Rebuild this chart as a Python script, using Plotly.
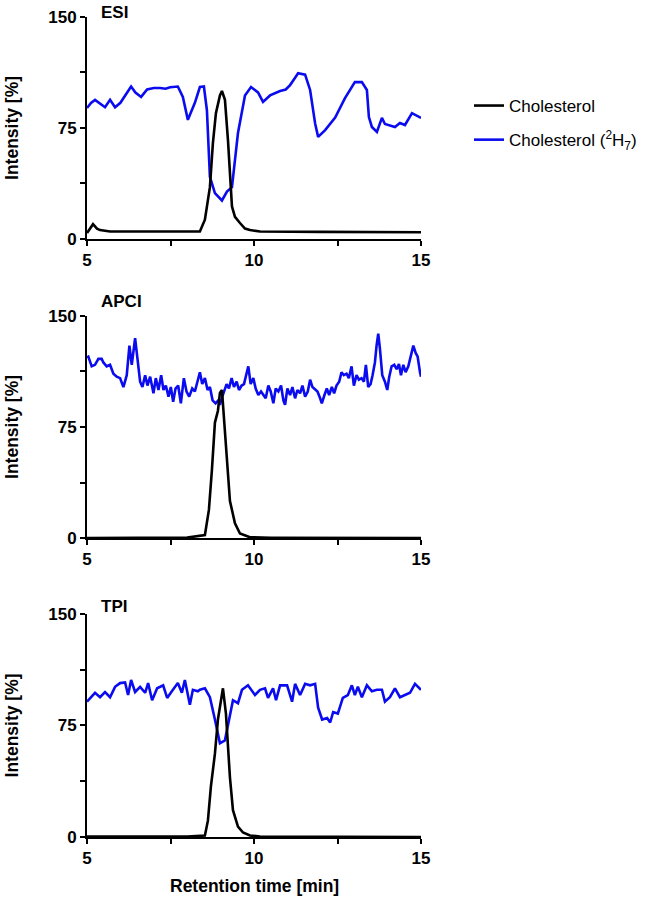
import plotly.graph_objects as go

# ---------------- data ----------------
esi_is_t = [5.00, 5.12, 5.24, 5.40, 5.54, 5.69, 5.84, 6.00, 6.14, 6.32, 6.45, 6.62, 6.80, 7.00, 7.19,
            7.35, 7.49, 7.72, 7.87, 8.02, 8.23, 8.38, 8.50, 8.59, 8.68, 8.83, 9.04, 9.19, 9.34,
            9.52, 9.73, 9.91, 10.12, 10.27, 10.48, 10.78, 10.95, 11.08, 11.20, 11.32, 11.53, 11.68,
            11.83, 11.92, 12.13, 12.43, 12.72, 13.02, 13.23, 13.38, 13.44, 13.53, 13.68, 13.83,
            13.92, 14.22, 14.37, 14.52, 14.73, 14.82, 15.00]
esi_is_v = [88.5, 92, 94, 91, 89, 94, 89, 92, 97, 103, 99, 96, 101, 102, 102,
            101.5, 102.5, 103, 96, 80.5, 92, 102.7, 103, 87, 42, 31, 26, 32, 35,
            71.6, 97, 102.7, 99, 92.6, 97, 100, 101, 104, 108, 112, 111, 100.7,
            78, 69, 73.6, 82, 95, 106, 106, 100.7, 82.4, 75.7, 72.3, 81.8,
            77.7, 75.7, 78.4, 77, 85, 83.8, 81.8]

esi_ch_t = [5.00, 5.10, 5.18, 5.30, 5.39, 5.69, 7.00, 8.38, 8.53, 8.68, 8.77, 8.86, 8.98, 9.04,
            9.13, 9.22, 9.34, 9.43, 9.58, 9.73, 9.88, 10.18, 12.00, 15.00]
esi_ch_v = [4, 7, 10, 7, 6, 5, 5, 5, 13, 35, 65, 85, 97, 100,
            94, 67, 22, 15, 10.8, 7, 6, 5, 4.8, 4.5]

apci_is_t = [5.00, 5.04, 5.14, 5.24, 5.34, 5.44, 5.49, 5.59, 5.69, 5.79, 5.89, 5.99, 6.09, 6.19,
             6.27, 6.34, 6.44, 6.52, 6.59, 6.66, 6.74, 6.81, 6.89, 6.99, 7.06, 7.14, 7.22, 7.29,
             7.36, 7.44, 7.51, 7.58, 7.65, 7.73, 7.81, 7.90, 7.98, 8.06, 8.15, 8.23, 8.31, 8.38,
             8.45, 8.53, 8.61, 8.68, 8.76, 8.85, 8.93, 8.98, 9.05, 9.11, 9.18, 9.25, 9.33, 9.40,
             9.48, 9.55, 9.63, 9.70, 9.76, 9.83, 9.90, 9.98, 10.05, 10.13, 10.21, 10.28, 10.35,
             10.43, 10.50, 10.58, 10.65, 10.73, 10.81, 10.88, 10.93, 11.00, 11.08, 11.15, 11.23,
             11.30, 11.38, 11.45, 11.53, 11.61, 11.68, 11.75, 11.83, 11.90, 11.98, 12.03, 12.11,
             12.18, 12.25, 12.33, 12.40, 12.47, 12.55, 12.62, 12.69, 12.77, 12.84, 12.92, 12.99,
             13.07, 13.14, 13.22, 13.29, 13.35, 13.42, 13.49, 13.55, 13.62, 13.67, 13.72, 13.77,
             13.84, 13.92, 13.99, 14.05, 14.12, 14.20, 14.27, 14.34, 14.40, 14.47, 14.54, 14.62,
             14.70, 14.77, 14.84, 14.90, 14.97, 15.00]
apci_is_v = [122, 122.5, 116, 117, 121, 121, 118.6, 116, 117, 111, 109, 108, 102, 110,
             130, 117, 135, 121, 105.6, 102, 110, 103, 109, 97.8, 108, 100, 110, 100,
             103, 95.5, 102, 92, 101, 103, 91, 108, 99, 95.5, 101, 99, 107, 112,
             104, 108, 100, 102, 93, 91, 93, 90, 95.5, 100, 104, 101, 108, 102,
             105.6, 100, 103, 104, 109, 116, 104, 108, 101, 96.6, 99, 96.6, 94.4,
             103, 99, 91, 101, 99, 103, 93, 90, 101, 96.6, 102, 94.4,
             100, 97.8, 103, 95.5, 99, 107, 102, 100, 99, 94.4, 91, 96.6,
             101, 96.6, 102, 97.8, 103, 105.6, 112, 110, 111, 108, 116, 103,
             110, 107, 108, 105.6, 117, 102, 104, 110, 118.6, 130, 138, 128,
             110, 105.6, 100, 109, 116, 117, 114, 117.5, 110, 117, 112, 116,
             124, 130, 125, 122.5, 112, 109]

apci_ch_t = [5.00, 8.00, 8.53, 8.65, 8.74, 8.83, 8.92, 8.98, 9.04, 9.13, 9.28, 9.43, 9.58, 9.88, 10.50, 15.00]
apci_ch_v = [0, 0.3, 2, 19, 46, 78, 86, 98, 100, 73, 25, 10, 3, 0.5, 0.2, 0]

tpi_is_t = [5.00, 5.09, 5.24, 5.39, 5.54, 5.69, 5.84, 5.99, 6.14, 6.23, 6.32, 6.44, 6.59, 6.74, 6.83,
            6.95, 7.10, 7.28, 7.40, 7.54, 7.72, 7.84, 7.93, 8.08, 8.17, 8.32, 8.38, 8.53, 8.68, 8.83,
            8.98, 9.13, 9.28, 9.37, 9.52, 9.64, 9.82, 10.03, 10.18, 10.33, 10.42, 10.57, 10.66,
            10.78, 10.99, 11.14, 11.23, 11.38, 11.53, 11.68, 11.83, 11.92, 12.04, 12.19, 12.28,
            12.37, 12.51, 12.66, 12.81, 12.93, 13.02, 13.11, 13.23, 13.38, 13.53, 13.68, 13.83,
            13.92, 14.07, 14.22, 14.37, 14.52, 14.67, 14.82, 14.91, 15.00]
tpi_is_v = [91, 93.5, 97, 94, 97.5, 94, 101, 103.5, 104, 95.5, 105.6, 97.5, 101, 97, 103.5,
            92, 100, 102, 93.5, 98, 103.5, 97, 105.6, 89, 99, 98, 99, 100, 94, 79,
            63, 65, 81, 92, 90, 99, 102, 95.5, 99, 100, 93.5, 100, 92,
            102, 102, 91, 103, 95.5, 103, 102, 103, 87, 79, 80, 77,
            84, 83, 93.5, 95.5, 102, 95.5, 101, 94, 102, 98, 99, 99,
            91, 94, 100, 94, 95.5, 97, 103, 101, 99]

tpi_ch_t = [5.00, 8.00, 8.53, 8.62, 8.71, 8.83, 8.92, 8.98, 9.07, 9.16, 9.28, 9.37, 9.52, 9.67, 9.88, 10.18, 15.00]
tpi_ch_v = [0.3, 0.3, 1, 11, 34, 56, 79, 87.5, 100, 83, 40, 18, 7, 3, 1, 0.3, 0]

panel_titles = ["ESI", "APCI", "TPI"]
x_ticks = [5, 7.5, 10, 12.5, 15]
x_ticklabels = ["5", "", "10", "", "15"]
y_ticks = [0, 37.5, 75, 112.5, 150]
y_ticklabels = ["0", "", "75", "", "150"]
name_ch = "Cholesterol"
name_is = "Cholesterol (<sup>2</sup>H<sub>7</sub>)"

# ---------------- figure ----------------
BLUE = "#0b0bf0"
BLACK = "#000000"
FONT = "Liberation Sans, Arial, sans-serif"

panels = [
    (esi_is_t, esi_is_v, esi_ch_t, esi_ch_v),
    (apci_is_t, apci_is_v, apci_ch_t, apci_ch_v),
    (tpi_is_t, tpi_is_v, tpi_ch_t, tpi_ch_v),
]
domains = [[0.7293, 1.0], [0.3646, 0.6354], [0.0, 0.2720]]
title_y = [1.0055, 0.6525, 0.2817]

fig = go.Figure()
for i, (it, iv, ct, cv) in enumerate(panels):
    ax = "" if i == 0 else str(i + 1)
    fig.add_trace(go.Scatter(x=it, y=iv, mode="lines", name=name_is,
                             line=dict(color=BLUE, width=2.6),
                             xaxis="x" + ax, yaxis="y" + ax,
                             showlegend=(i == 0), legendgroup="is", legendrank=2))
    fig.add_trace(go.Scatter(x=ct, y=cv, mode="lines", name=name_ch,
                             line=dict(color=BLACK, width=2.6),
                             xaxis="x" + ax, yaxis="y" + ax,
                             showlegend=(i == 0), legendgroup="ch", legendrank=1))

axis_common = dict(showline=True, linewidth=2, linecolor="black", ticks="outside",
                   ticklen=5, tickwidth=2, tickcolor="black", showgrid=False, zeroline=False,
                   tickfont=dict(family=FONT, size=17, color="black", weight="bold"))
layout = {}
for i in range(3):
    sx = "xaxis" if i == 0 else f"xaxis{i+1}"
    sy = "yaxis" if i == 0 else f"yaxis{i+1}"
    ax = "x" if i == 0 else f"x{i+1}"
    ay = "y" if i == 0 else f"y{i+1}"
    layout[sx] = dict(axis_common, range=[5, 15], tickvals=x_ticks, ticktext=x_ticklabels,
                      anchor=ay, domain=[0, 1])
    layout[sy] = dict(axis_common, range=[0, 150], tickvals=y_ticks, ticktext=y_ticklabels,
                      anchor=ax, domain=domains[i])
fig.update_layout(**layout)

annotations = []
for i in range(3):
    annotations.append(dict(text=panel_titles[i], xref="paper", yref="paper", x=0.036, y=title_y[i],
                            xanchor="left", yanchor="middle", showarrow=False,
                            font=dict(family=FONT, size=17, color="black", weight="bold")))
    annotations.append(dict(text="Intensity [%]", xref="paper", yref="paper", x=-0.2246,
                            y=sum(domains[i]) / 2, xanchor="center", yanchor="middle",
                            textangle=-90, showarrow=False,
                            font=dict(family=FONT, size=17.5, color="black", weight="bold")))
annotations.append(dict(text="Retention time [min]", xref="paper", yref="paper", x=0.5, y=-0.0598,
                        xanchor="center", yanchor="middle", showarrow=False,
                        font=dict(family=FONT, size=17.5, color="black", weight="bold")))

fig.update_layout(
    width=649, height=899,
    margin=dict(l=87, r=228, t=17, b=62, autoexpand=False),
    paper_bgcolor="white", plot_bgcolor="white",
    annotations=annotations,
    showlegend=True,
    legend=dict(x=(469 - 87) / 334, y=(837 - 88) / 820, xanchor="left", yanchor="top",
                font=dict(family=FONT, size=17, color="black"),
                tracegroupgap=9, bgcolor="rgba(0,0,0,0)"),
)

fig.write_html("out.html")
